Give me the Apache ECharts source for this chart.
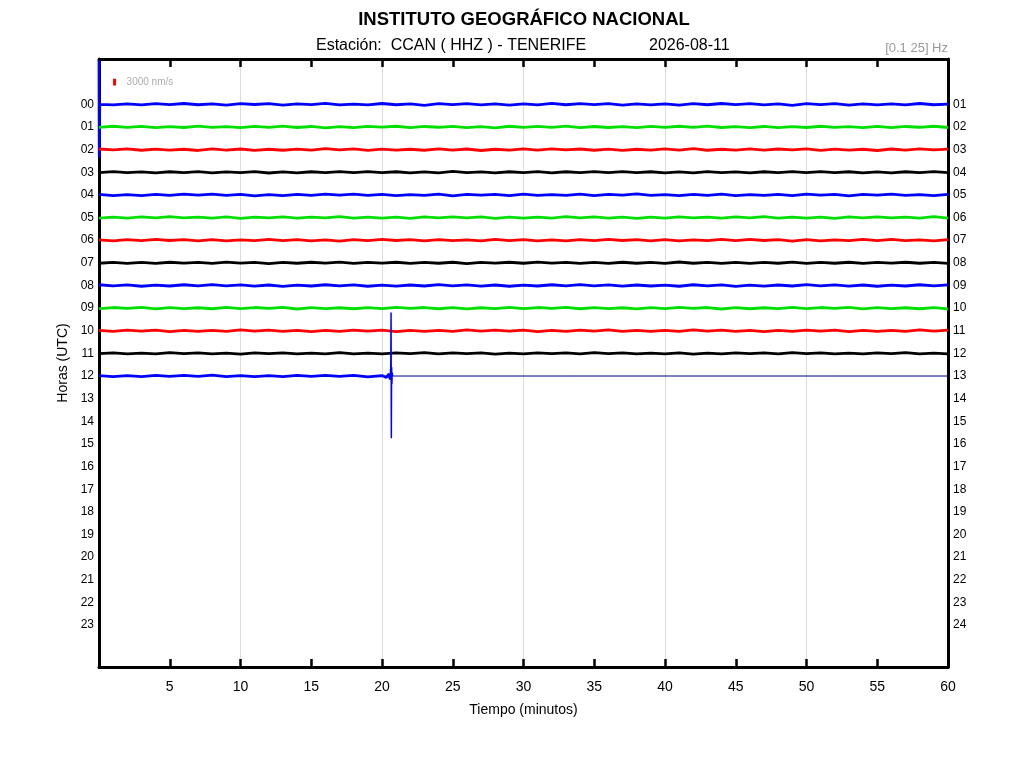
<!DOCTYPE html>
<html>
<head>
<meta charset="utf-8">
<script src="https://cdn.jsdelivr.net/npm/echarts@6/dist/echarts.min.js"></script>
<style>html,body{margin:0;padding:0;background:#fff}#c{width:1024px;height:768px}</style>
</head>
<body>
<div id="c"></div>
<script>
// ---- Data ----
var minutes = [];
for (var m = 0; m <= 60; m++) minutes.push(m);
var nmPerRow = 10000;          // nm/s per row spacing
var scaleBarNm = 3000;         // scale bar value
var leftHourLabels = ['00','01','02','03','04','05','06','07','08','09','10','11','12','13','14','15','16','17','18','19','20','21','22','23'];
var rightHourLabels = ['01','02','03','04','05','06','07','08','09','10','11','12','13','14','15','16','17','18','19','20','21','22','23','24'];
var traceColors = ['#0000ff', '#00e000', '#ff0000', '#000000'];
var xTicks = [5,10,15,20,25,30,35,40,45,50,55,60];

// start-of-record spike on hour 00
var startSpikeTimes = [0, 0.02, 0.05];
var startSpikeValues = [-19500, 23500, 0];

// noise amplitudes (nm/s), one value per minute, hours 00..11
var hour00 = [0,250,-200,300,-250,150,-350,200,-150,400,-300,100,-250,350,-200,150,-400,250,-100,300,-350,200,-150,450,-250,150,-300,250,-200,350,-150,300,-400,200,-250,150,-300,350,-200,250,-150,400,-300,200,-350,150,-250,300,-200,450,-300,150,-250,350,-200,250,-150,300,-350,200,-100];
var hour01 = [200,-300,150,-250,350,-150,250,-400,200,-100,300,-250,150,-350,250,-200,400,-150,300,-250,100,-300,350,-200,150,-250,300,-150,400,-300,200,-250,150,-350,300,-200,250,-150,350,-250,200,-300,150,-400,250,-150,300,-200,350,-100,250,-300,200,-150,300,-250,350,-200,150,-300,250];
var hour02 = [-250,150,-350,300,-200,250,-150,400,-300,200,-250,350,-150,300,-200,250,-400,150,-300,350,-200,250,-150,300,-350,200,-250,400,-150,250,-300,200,-350,150,-250,300,-200,350,-150,250,-300,200,-400,300,-150,250,-350,200,-250,150,-300,350,-200,250,-150,400,-250,200,-300,150,-200];
var hour03 = [150,-250,200,-150,300,-200,150,-300,250,-150,200,-250,350,-150,250,-200,150,-300,200,-250,150,-200,300,-150,250,-350,200,-150,250,-200,150,-250,300,-200,150,-250,200,-300,150,-200,250,-150,300,-250,200,-150,250,-200,150,-300,200,-250,150,-200,300,-150,250,-200,150,-250,200];
var hour04 = [-200,300,-150,350,-250,200,-300,150,-350,250,-200,400,-150,300,-250,200,-350,150,-300,250,-200,350,-150,250,-300,400,-200,150,-250,300,-350,200,-150,250,-300,350,-200,150,-400,250,-150,300,-250,200,-300,350,-150,250,-200,300,-350,150,-250,400,-200,150,-300,250,-150,350,-200];
var hour05 = [250,-150,300,-250,200,-350,150,-200,300,-250,350,-150,200,-300,250,-200,150,-350,300,-150,250,-200,350,-250,150,-300,200,-250,400,-150,300,-200,250,-350,150,-250,300,-200,350,-150,250,-300,200,-150,300,-250,150,-350,250,-200,300,-150,350,-250,200,-300,150,-200,250,-350,300];
var hour06 = [-150,350,-250,200,-300,150,-200,350,-250,300,-150,200,-350,250,-200,300,-150,400,-250,200,-300,150,-250,350,-200,250,-150,300,-350,200,-250,300,-150,350,-200,250,-300,150,-250,350,-200,300,-150,250,-350,200,-300,150,-250,400,-200,300,-150,250,-300,200,-350,250,-150,300,-200];
var hour07 = [200,-200,250,-150,300,-250,150,-200,250,-300,150,-200,350,-150,200,-250,150,-300,250,-200,150,-250,300,-150,200,-250,350,-200,150,-250,200,-300,150,-200,250,-150,300,-250,200,-150,250,-350,200,-150,300,-200,250,-150,200,-300,250,-150,200,-250,300,-200,150,-250,200,-150,250];
var hour08 = [-300,200,-250,350,-150,250,-300,200,-350,150,-250,300,-200,400,-150,250,-300,200,-250,350,-150,300,-200,250,-400,150,-250,300,-200,350,-150,250,-300,200,-350,150,-250,300,-200,250,-150,350,-300,200,-250,400,-150,300,-200,250,-350,150,-250,300,-200,350,-150,250,-300,200,-250];
var hour09 = [250,-250,150,-300,350,-200,250,-150,300,-350,200,-250,150,-300,400,-200,250,-150,300,-250,200,-350,150,-250,300,-200,350,-150,250,-300,200,-250,150,-350,300,-200,250,-150,350,-250,200,-300,150,-250,400,-200,300,-150,250,-350,200,-250,150,-300,350,-200,250,-150,300,-250,350];
var hour10 = [-200,250,-300,150,-250,350,-200,300,-150,250,-350,200,-250,300,-150,400,-200,250,-300,150,-250,350,-200,300,-150,250,-350,200,-300,150,-250,350,-200,250,-300,150,-400,250,-200,300,-150,250,-350,200,-250,300,-150,350,-200,250,-300,150,-250,350,-200,300,-150,250,-350,200,-250];
var hour11 = [150,-200,250,-150,200,-300,150,-250,200,-150,300,-200,150,-250,200,-150,250,-300,200,-150,250,-200,150,-300,200,-250,150,-200,300,-150,250,-200,150,-250,200,-300,150,-200,250,-150,200,-250,300,-150,200,-250,150,-200,250,-300,150,-200,250,-150,200,-250,150,-300,200,-150,250];
// hour 12: record up to the event near 20.6 min
var hour12Times = [0,1,2,3,4,5,6,7,8,9,10,11,12,13,14,15,16,17,18,19,20,20.3,20.5,20.58];
var hour12Values = [-200,300,-150,250,-300,200,-250,150,-350,250,-200,300,-150,250,-250,200,-300,150,-250,350,-200,600,-900,1500];
var eventTimes = [20.58,20.6,20.62,20.64,20.66,20.68,20.7,20.72,20.75];
var eventValues = [1500,-2500,-3500,-28000,27500,-4000,3500,-1500,0];
var hour12TailTimes = [20.75, 60];
var hour12TailValues = [0, 0];
var hourTraces = [hour00,hour01,hour02,hour03,hour04,hour05,hour06,hour07,hour08,hour09,hour10,hour11];

// ---- Build series ----
function toPoints(times, vals, row) {
  var d = [];
  for (var i = 0; i < times.length; i++) d.push([times[i], row + vals[i] / nmPerRow]);
  return d;
}
var series = [];
hourTraces.forEach(function (vals, h) {
  var data = [];
  if (h === 0) data = toPoints(startSpikeTimes, startSpikeValues, h);
  for (var k = 0; k < minutes.length; k++) {
    if (h === 0 && minutes[k] === 0) continue;
    data.push([minutes[k], h + vals[k] / nmPerRow]);
  }
  series.push({type:'line', data:data, symbol:'none', silent:true, clip:true,
    lineStyle:{color:traceColors[h % 4], width:2.8}, animation:false});
});
series.push({type:'line', data:toPoints(hour12Times, hour12Values, 12), symbol:'none', silent:true, clip:true,
  lineStyle:{color:traceColors[0], width:2.8}, animation:false});
series.push({type:'line', data:toPoints(eventTimes, eventValues, 12), symbol:'none', silent:true, clip:true,
  lineStyle:{color:traceColors[0], width:1.5}, animation:false});
series.push({type:'line', data:toPoints(hour12TailTimes, hour12TailValues, 12), symbol:'none', silent:true,
  lineStyle:{color:'#000080', width:1}, animation:false});
// scale bar
var scaleBarT = 1.1, scaleBarRow = -0.98;
series.push({type:'line', data:[[scaleBarT, scaleBarRow - scaleBarNm/nmPerRow/2],[scaleBarT, scaleBarRow + scaleBarNm/nmPerRow/2]],
  symbol:'none', silent:true, lineStyle:{color:'#ff0000', width:3}, animation:false});
series.push({type:'scatter', data:[[1.95, scaleBarRow]], symbolSize:0, silent:true, animation:false,
  label:{show:true, position:'right', distance:0, formatter:scaleBarNm + ' nm/s', color:'#999', fontSize:10, fontFamily:'Liberation Sans'}});

var chart = echarts.init(document.getElementById('c'), null, {renderer:'canvas'});
var ff = 'Liberation Sans';
chart.setOption({
  backgroundColor:'#fff',
  animation:false,
  graphic:[
    {type:'text', x:524, y:20, style:{text:'INSTITUTO GEOGRÁFICO NACIONAL', font:'bold 18.5px "Liberation Sans"', fill:'#000', textAlign:'center', textVerticalAlign:'middle'}},
    {type:'text', x:316, y:46, style:{text:'Estación:  CCAN ( HHZ ) - TENERIFE', font:'16px "Liberation Sans"', fill:'#000', textAlign:'left', textVerticalAlign:'middle'}},
    {type:'text', x:649, y:46, style:{text:'2026-08-11', font:'16px "Liberation Sans"', fill:'#000', textAlign:'left', textVerticalAlign:'middle'}},
    {type:'text', x:948, y:48, style:{text:'[0.1 25] Hz', font:'13px "Liberation Sans"', fill:'#999', textAlign:'right', textVerticalAlign:'middle'}}
  ],
  grid:{left:99, right:76, top:59, bottom:101, containLabel:false},
  xAxis:[
    {type:'value', position:'bottom', min:0, max:60, interval:5,
      name:'Tiempo (minutos)', nameLocation:'middle', nameGap:36, nameTextStyle:{fontSize:14, color:'#000', fontFamily:ff},
      axisLine:{show:true, onZero:false, lineStyle:{color:'#000', width:3}},
      axisTick:{show:true, inside:true, length:8, lineStyle:{color:'#000', width:2.5}},
      axisLabel:{fontSize:14, color:'#000', fontFamily:ff, margin:13, formatter:function(v){return xTicks.indexOf(v) >= 0 ? String(v) : '';}},
      splitLine:{show:false}},
    {type:'value', position:'top', min:0, max:60, interval:5,
      axisLine:{show:true, onZero:false, lineStyle:{color:'#000', width:3}},
      axisTick:{show:true, inside:true, length:8, lineStyle:{color:'#000', width:2.5}},
      axisLabel:{show:false}, splitLine:{show:false}},
    {type:'value', position:'bottom', min:0, max:60, interval:10,
      axisLine:{show:false, onZero:false}, axisTick:{show:false}, axisLabel:{show:false},
      splitLine:{show:true, lineStyle:{color:'#dddddd', width:1}}}
  ],
  yAxis:[
    {type:'value', position:'left', inverse:true, min:-2, max:24.85, interval:1,
      name:'Horas (UTC)', nameLocation:'middle', nameGap:28, nameRotate:90, nameTextStyle:{fontSize:14, color:'#000', fontFamily:ff},
      axisLine:{show:true, onZero:false, lineStyle:{color:'#000', width:3}}, axisTick:{show:false},
      axisLabel:{fontSize:12, color:'#000', fontFamily:ff, margin:5, showMaxLabel:false,
        formatter:function(v){var r=Math.round(v); return (Math.abs(v-r)<1e-6 && r>=0 && r<=23) ? leftHourLabels[r] : '';}},
      splitLine:{show:false}},
    {type:'value', position:'right', inverse:true, min:-2, max:24.85, interval:1,
      axisLine:{show:true, onZero:false, lineStyle:{color:'#000', width:3}}, axisTick:{show:false},
      axisLabel:{fontSize:12, color:'#000', fontFamily:ff, margin:5, showMaxLabel:false,
        formatter:function(v){var r=Math.round(v); return (Math.abs(v-r)<1e-6 && r>=0 && r<=23) ? rightHourLabels[r] : '';}},
      splitLine:{show:false}}
  ],
  series:series
});
</script>
</body>
</html>
